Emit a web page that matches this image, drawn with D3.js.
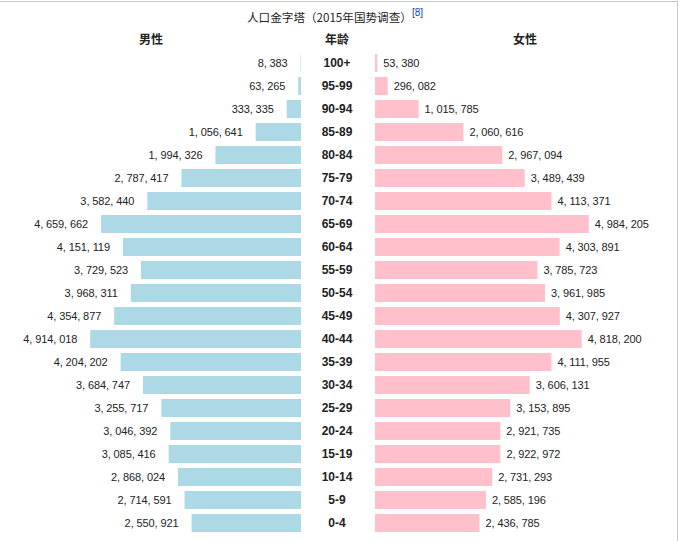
<!DOCTYPE html>
<html><head><meta charset="utf-8">
<script src="https://cdn.jsdelivr.net/npm/d3@7"></script>
<style>
html,body{margin:0;padding:0;background:#fff;}
svg{display:block;}
</style></head>
<body>
<script>
const ages = ["100+","95-99","90-94","85-89","80-84","75-79","70-74","65-69","60-64","55-59","50-54","45-49","40-44","35-39","30-34","25-29","20-24","15-19","10-14","5-9","0-4"];
const male = [8383,63265,333335,1056641,1994326,2787417,3582440,4659662,4151119,3729523,3968311,4354877,4914018,4204202,3684747,3255717,3046392,3085416,2868024,2714591,2550921];
const female = [53380,296082,1015785,2060616,2967094,3489439,4113371,4984205,4303891,3785723,3961985,4307927,4818200,4111955,3606131,3153895,2921735,2922972,2731293,2585196,2436785];
const titleText = "人口金字塔（2015年国势调查）";
const refText = "[8]";
const headers = ["男性","年龄","女性"];

const W = 679, H = 541;
const svg = d3.select("body").append("svg").attr("width", W).attr("height", H);

// border (top & right)
svg.append("line").attr("x1",0).attr("x2",677.5).attr("y1",1.5).attr("y2",1.5).attr("stroke","#c8c8c8");
svg.append("line").attr("x1",677.5).attr("x2",677.5).attr("y1",1).attr("y2",H).attr("stroke","#c8c8c8");

const y = d3.scaleBand().domain(ages).range([51.5, 534.5]).paddingInner(5/23).paddingOuter(5/46);
const maleEnd = 301, femStart = 375, centerX = 337;
const xw = d3.scaleLinear().domain([0, 5e6]).range([0, 214.5]);
const fmt = v => d3.format(",")(v).replace(/,/g, ", ");

const rows = ages.map((a,i)=>({age:a, m:male[i], f:female[i]}));

// title
svg.append("text").attr("x", 247).attr("y", 22)
  .attr("font-family","'Noto Sans CJK SC', sans-serif").attr("font-size","11.6px").attr("fill","#222")
  .text(titleText);
svg.append("text").attr("x", 412).attr("y", 16)
  .attr("font-size","10px").attr("fill","#0645ad").attr("font-family","'Liberation Sans', sans-serif").text(refText);

// headers
svg.selectAll("text.hdr").data(headers).enter().append("text").attr("class","hdr")
  .attr("x",(d,i)=>[151, centerX, 525][i]).attr("y",44)
  .attr("text-anchor","middle").attr("font-family","'Noto Sans CJK SC', sans-serif")
  .attr("font-weight","bold").attr("font-size","12px").attr("fill","#222").text(d=>d);

// male bars
svg.selectAll("rect.m").data(rows).enter().append("rect").attr("class","m")
  .attr("x", d=>maleEnd - xw(d.m)).attr("width", d=>xw(d.m))
  .attr("y", d=>y(d.age)).attr("height", y.bandwidth()).attr("fill","#add8e6");
// female bars
svg.selectAll("rect.f").data(rows).enter().append("rect").attr("class","f")
  .attr("x", femStart).attr("width", d=>xw(d.f))
  .attr("y", d=>y(d.age)).attr("height", y.bandwidth()).attr("fill","#ffc0cb");

const lblFont = "'Liberation Sans', Arial, sans-serif";
svg.selectAll("text.ml").data(rows).enter().append("text").attr("class","ml")
  .attr("x", d=>maleEnd - xw(d.m) - 13).attr("y", d=>y(d.age)+y.bandwidth()/2).attr("dy","0.35em")
  .attr("text-anchor","end").attr("font-family",lblFont).attr("font-size","11px")
  .attr("letter-spacing","-0.1px").attr("fill","#222").text(d=>fmt(d.m));
svg.selectAll("text.fl").data(rows).enter().append("text").attr("class","fl")
  .attr("x", d=>femStart + xw(d.f) + 6).attr("y", d=>y(d.age)+y.bandwidth()/2).attr("dy","0.35em")
  .attr("font-family",lblFont).attr("font-size","11px")
  .attr("letter-spacing","-0.1px").attr("fill","#222").text(d=>fmt(d.f));
svg.selectAll("text.age").data(rows).enter().append("text").attr("class","age")
  .attr("x", centerX).attr("y", d=>y(d.age)+y.bandwidth()/2).attr("dy","0.35em")
  .attr("text-anchor","middle").attr("font-family",lblFont).attr("font-weight","bold")
  .attr("font-size","12px").attr("fill","#222").text(d=>d.age);
</script>
</body></html>
